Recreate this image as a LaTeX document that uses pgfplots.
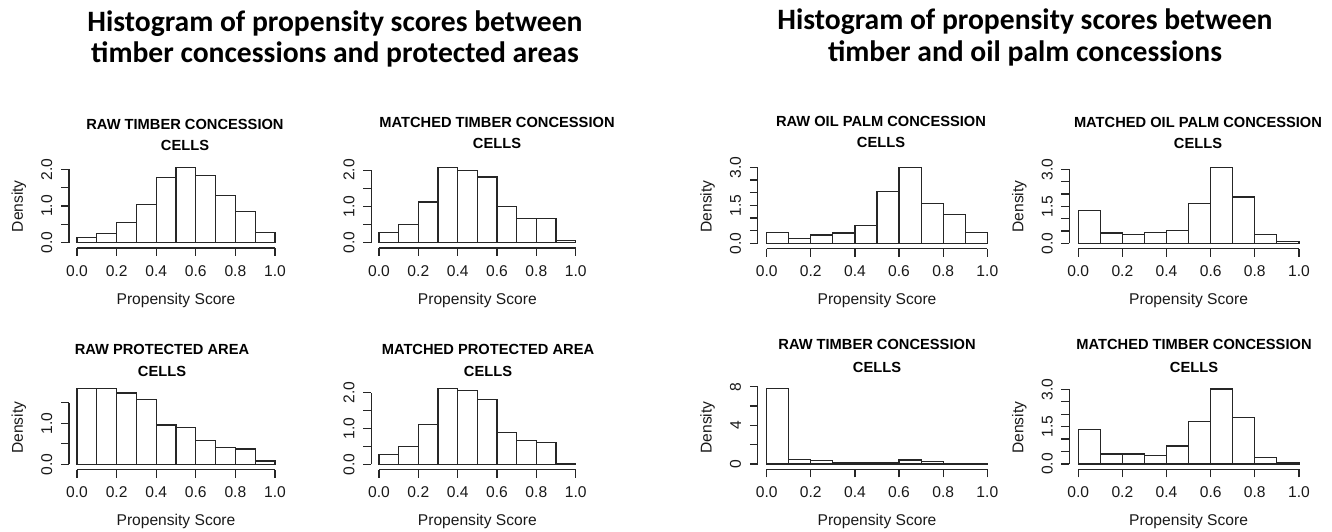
\documentclass[border=0pt]{standalone}
\usepackage{pgfplots}
\pgfplotsset{compat=1.18}
\usepackage{fontspec}
\setmainfont{Liberation Sans}
\newfontfamily\headfont{Carlito}
\newcommand{\rfont}{\fontsize{11.7pt}{13pt}\selectfont}
\newcommand{\tfont}{\fontsize{11pt}{13pt}\selectfont\bfseries}
\newcommand{\hfont}{\headfont\fontsize{22.2pt}{24pt}\selectfont\bfseries}
\tikzset{axl/.style={black!85, line width=0.9pt}}
\pgfplotsset{
  rhist/.style={
    anchor=origin,
    xmin=-0.04, xmax=1.04,
    axis x line*=bottom, axis y line*=left,
    axis line style={draw=none},
    tick align=outside,
    major tick length=6pt,
    tick style={black!85, line width=0.9pt},
    xtick={0,0.2,0.4,0.6,0.8,1},
    xticklabels={0.0,0.2,0.4,0.6,0.8,1.0},
    ticklabel style={font=\rfont, black!90},
    yticklabel style={rotate=90, anchor=south},
    xticklabel shift=3.5pt,
    yticklabel shift=3pt,
    xlabel shift=5.5pt,
    ylabel shift=4.5pt,
    xlabel={Propensity Score}, ylabel={Density},
    label style={font=\rfont, black!90},
    minor tick num=0,
    clip=false,
    scaled ticks=false,
  },
  hbar/.style={ybar interval, fill=white, draw=black!85, line width=0.9pt, mark=none},
}
\begin{document}
\begin{tikzpicture}[x=0.75pt, y=0.75pt]
\useasboundingbox (0,0) rectangle (1332,532);
% headings
\node[font=\hfont, anchor=base, inner sep=0pt] at (335,500) {Histogram of propensity scores between};
\node[font=\hfont, anchor=base, inner sep=0pt] at (335,469) {timber concessions and protected areas};
\node[font=\hfont, anchor=base, inner sep=0pt] at (1025,502) {Histogram of propensity scores between};
\node[font=\hfont, anchor=base, inner sep=0pt] at (1025,470) {timber and oil palm concessions};
% panel titles
\node[font=\tfont, anchor=base, inner sep=0pt] at (185,402) {RAW TIMBER CONCESSION};
\node[font=\tfont, anchor=base, inner sep=0pt] at (185,381) {CELLS};
\node[font=\tfont, anchor=base, inner sep=0pt] at (497,404) {MATCHED TIMBER CONCESSION};
\node[font=\tfont, anchor=base, inner sep=0pt] at (497,383) {CELLS};
\node[font=\tfont, anchor=base, inner sep=0pt] at (162,177) {RAW PROTECTED AREA};
\node[font=\tfont, anchor=base, inner sep=0pt] at (162,155) {CELLS};
\node[font=\tfont, anchor=base, inner sep=0pt] at (488,177) {MATCHED PROTECTED AREA};
\node[font=\tfont, anchor=base, inner sep=0pt] at (488,155) {CELLS};
\node[font=\tfont, anchor=base, inner sep=0pt] at (881,405) {RAW OIL PALM CONCESSION};
\node[font=\tfont, anchor=base, inner sep=0pt] at (881,384) {CELLS};
\node[font=\tfont, anchor=base, inner sep=0pt] at (1198,404) {MATCHED OIL PALM CONCESSION};
\node[font=\tfont, anchor=base, inner sep=0pt] at (1198,383) {CELLS};
\node[font=\tfont, anchor=base, inner sep=0pt] at (877,182) {RAW TIMBER CONCESSION};
\node[font=\tfont, anchor=base, inner sep=0pt] at (877,159) {CELLS};
\node[font=\tfont, anchor=base, inner sep=0pt] at (1194,182) {MATCHED TIMBER CONCESSION};
\node[font=\tfont, anchor=base, inner sep=0pt] at (1194,159) {CELLS};

% Panel 1
\begin{axis}[rhist, at={(57.75pt,217pt)}, x=148.5pt, y=27.5pt, ymin=-0.144, ymax=2.132,
  ytick={0,0.5,1,1.5,2}, yticklabels={0.0,,1.0,,2.0}]
\addplot[hbar] coordinates {(0,0.14) (0.1,0.24) (0.2,0.55) (0.3,1.05) (0.4,1.77) (0.5,2.05) (0.6,1.83) (0.7,1.28) (0.8,0.86) (0.9,0.28) (1.0,0.28)};
\draw[axl] (axis cs:0,-0.144) -- (axis cs:1,-0.144);
\draw[axl] (axis cs:-0.04,0) -- (axis cs:-0.04,2);
\end{axis}
% Panel 2
\begin{axis}[rhist, at={(284.25pt,217pt)}, x=147.5pt, y=27.2pt, ymin=-0.146, ymax=2.153,
  ytick={0,0.5,1,1.5,2}, yticklabels={0.0,,1.0,,2.0}, ylabel={}]
\addplot[hbar] coordinates {(0,0.28) (0.1,0.49) (0.2,1.12) (0.3,2.07) (0.4,2.00) (0.5,1.81) (0.6,0.99) (0.7,0.66) (0.8,0.66) (0.9,0.05) (1.0,0.05)};
\draw[axl] (axis cs:0,-0.146) -- (axis cs:1,-0.146);
\draw[axl] (axis cs:-0.04,0) -- (axis cs:-0.04,2);
\end{axis}
% Panel 3
\begin{axis}[rhist, at={(57.75pt,50.8pt)}, x=148.5pt, y=30.75pt, ymin=-0.129, ymax=1.914,
  ytick={0,0.5,1,1.5}, yticklabels={0.0,,1.0,}]
\addplot[hbar] coordinates {(0,1.84) (0.1,1.84) (0.2,1.74) (0.3,1.57) (0.4,0.96) (0.5,0.89) (0.6,0.58) (0.7,0.41) (0.8,0.37) (0.9,0.08) (1.0,0.08)};
\draw[axl] (axis cs:0,-0.129) -- (axis cs:1,-0.129);
\draw[axl] (axis cs:-0.04,0) -- (axis cs:-0.04,1.5);
\end{axis}
% Panel 4
\begin{axis}[rhist, at={(284.25pt,50.8pt)}, x=147.5pt, y=26.9pt, ymin=-0.148, ymax=2.194,
  ytick={0,0.5,1,1.5,2}, yticklabels={0.0,,1.0,,2.0}, ylabel={}]
\addplot[hbar] coordinates {(0,0.27) (0.1,0.49) (0.2,1.10) (0.3,2.11) (0.4,2.05) (0.5,1.80) (0.6,0.89) (0.7,0.67) (0.8,0.60) (0.9,0.02) (1.0,0.02)};
\draw[axl] (axis cs:0,-0.148) -- (axis cs:1,-0.148);
\draw[axl] (axis cs:-0.04,0) -- (axis cs:-0.04,2);
\end{axis}
% Panel 5
\begin{axis}[rhist, at={(575pt,216.5pt)}, x=165.5pt, y=19pt, ymin=-0.21, ymax=3.12,
  ytick={0,0.5,1,1.5,2,2.5,3}, yticklabels={0.0,,,1.5,,,3.0}]
\addplot[hbar] coordinates {(0,0.42) (0.1,0.18) (0.2,0.33) (0.3,0.41) (0.4,0.70) (0.5,2.04) (0.6,3.00) (0.7,1.58) (0.8,1.14) (0.9,0.43) (1.0,0.43)};
\draw[axl] (axis cs:0,-0.21) -- (axis cs:1,-0.21);
\draw[axl] (axis cs:-0.04,0) -- (axis cs:-0.04,3);
\end{axis}
% Panel 6
\begin{axis}[rhist, at={(808.7pt,216.5pt)}, x=165.5pt, y=18.5pt, ymin=-0.215, ymax=3.203,
  ytick={0,0.5,1,1.5,2,2.5,3}, yticklabels={0.0,,,1.5,,,3.0}]
\addplot[hbar] coordinates {(0,1.34) (0.1,0.42) (0.2,0.36) (0.3,0.43) (0.4,0.53) (0.5,1.62) (0.6,3.08) (0.7,1.88) (0.8,0.36) (0.9,0.09) (1.0,0.09)};
\draw[axl] (axis cs:0,-0.215) -- (axis cs:1,-0.215);
\draw[axl] (axis cs:-0.04,0) -- (axis cs:-0.04,3);
\end{axis}
% Panel 7
\begin{axis}[rhist, at={(575pt,51pt)}, x=165.5pt, y=7.25pt, ymin=-0.55, ymax=8.112,
  ytick={0,2,4,6,8}, yticklabels={0,,4,,8}]
\addplot[hbar] coordinates {(0,7.80) (0.1,0.45) (0.2,0.34) (0.3,0.14) (0.4,0.14) (0.5,0.14) (0.6,0.41) (0.7,0.28) (0.8,0.03) (0.9,0.03) (1.0,0.03)};
\draw[axl] (axis cs:0,-0.55) -- (axis cs:1,-0.55);
\draw[axl] (axis cs:-0.04,0) -- (axis cs:-0.04,8);
\end{axis}
% Panel 8
\begin{axis}[rhist, at={(808.7pt,51pt)}, x=165.5pt, y=18.7pt, ymin=-0.213, ymax=3.13,
  ytick={0,0.5,1,1.5,2,2.5,3}, yticklabels={0.0,,,1.5,,,3.0}]
\addplot[hbar] coordinates {(0,1.37) (0.1,0.40) (0.2,0.40) (0.3,0.33) (0.4,0.72) (0.5,1.69) (0.6,3.01) (0.7,1.87) (0.8,0.25) (0.9,0.07) (1.0,0.07)};
\draw[axl] (axis cs:0,-0.213) -- (axis cs:1,-0.213);
\draw[axl] (axis cs:-0.04,0) -- (axis cs:-0.04,3);
\end{axis}
\end{tikzpicture}
\end{document}
